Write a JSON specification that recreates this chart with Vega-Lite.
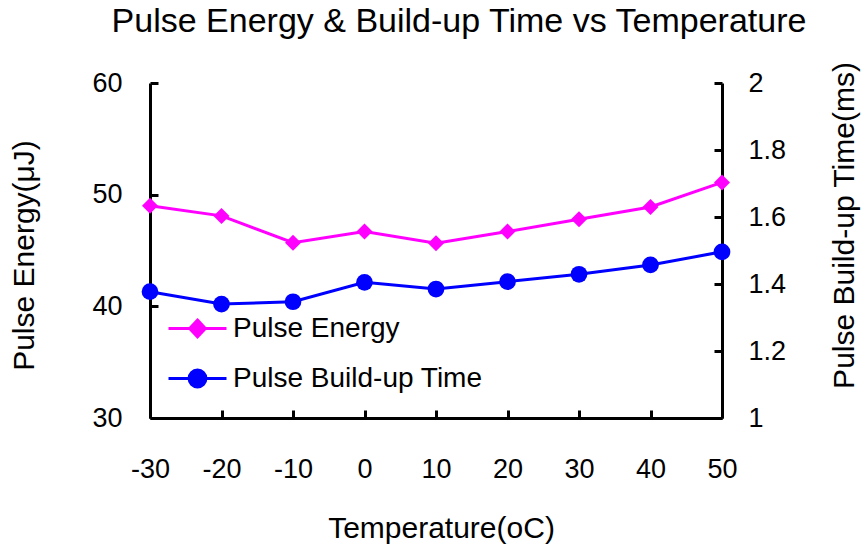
{
  "$schema": "https://vega.github.io/schema/vega-lite/v6.json",
  "width": 572,
  "height": 335,
  "autosize": {"type": "none"},
  "padding": {"left": 150, "top": 83, "right": 139, "bottom": 126},
  "background": "white",
  "title": {
    "text": "Pulse Energy & Build-up Time vs Temperature",
    "font": "Liberation Sans",
    "fontSize": 34,
    "fontWeight": "normal",
    "color": "black",
    "anchor": "middle",
    "frame": "group",
    "dx": 23,
    "offset": 22
  },
  "config": {
    "view": {"stroke": null},
    "axis": {
      "domainColor": "black",
      "domainWidth": 3,
      "ticks": true,
      "tickColor": "black",
      "tickWidth": 3,
      "tickSize": -8,
      "zindex": 1,
      "labelFlush": false,
      "grid": false,
      "labelFont": "Liberation Sans",
      "labelFontSize": 27,
      "labelColor": "black",
      "titleFont": "Liberation Sans",
      "titleFontSize": 30,
      "titleFontWeight": "normal",
      "titleColor": "black"
    }
  },
  "data": {
    "values": [
      {"temp": -30, "series": "Pulse Energy", "value": 49.0},
      {"temp": -20, "series": "Pulse Energy", "value": 48.1},
      {"temp": -10, "series": "Pulse Energy", "value": 45.7},
      {"temp": 0, "series": "Pulse Energy", "value": 46.7},
      {"temp": 10, "series": "Pulse Energy", "value": 45.65},
      {"temp": 20, "series": "Pulse Energy", "value": 46.7},
      {"temp": 30, "series": "Pulse Energy", "value": 47.8},
      {"temp": 40, "series": "Pulse Energy", "value": 48.9},
      {"temp": 50, "series": "Pulse Energy", "value": 51.1},
      {"temp": -30, "series": "Pulse Build-up Time", "value": 1.377},
      {"temp": -20, "series": "Pulse Build-up Time", "value": 1.34},
      {"temp": -10, "series": "Pulse Build-up Time", "value": 1.347},
      {"temp": 0, "series": "Pulse Build-up Time", "value": 1.405},
      {"temp": 10, "series": "Pulse Build-up Time", "value": 1.385},
      {"temp": 20, "series": "Pulse Build-up Time", "value": 1.407},
      {"temp": 30, "series": "Pulse Build-up Time", "value": 1.429},
      {"temp": 40, "series": "Pulse Build-up Time", "value": 1.457},
      {"temp": 50, "series": "Pulse Build-up Time", "value": 1.496}
    ]
  },
  "encoding": {
    "x": {
      "field": "temp",
      "type": "quantitative",
      "scale": {"domain": [-30, 50], "nice": false, "zero": false},
      "axis": {
        "values": [-30, -20, -10, 0, 10, 20, 30, 40, 50],
        "labelExpr": "'' + datum.value",
        "title": "Temperature(oC)",
        "labelBaseline": "alphabetic",
        "labelPadding": 67,
        "titleBaseline": "alphabetic",
        "titleX": 291,
        "titleY": 119,
        "titleAnchor": "middle",
        "titleAlign": "center"
      }
    },
    "color": {
      "field": "series",
      "type": "nominal",
      "scale": {"domain": ["Pulse Energy", "Pulse Build-up Time"], "range": ["#ff00ff", "#0000ff"]},
      "legend": {
        "orient": "none",
        "legendX": 17,
        "legendY": 215,
        "title": null,
        "padding": 0,
        "symbolSize": 3364,
        "symbolStrokeWidth": 3,
        "labelFont": "Liberation Sans",
        "labelFontSize": 28,
        "labelColor": "black",
        "labelLimit": 400,
        "labelOffset": 5,
        "rowPadding": 5,
        "encode": {
          "symbols": {
            "update": {
              "shape": {"signal": "datum.value === 'Pulse Energy' ? 'M-1,0L1,0M0,-0.29L0.27,0L0,0.29L-0.27,0Z' : 'M-1,0L1,0M-0.29,0A0.29,0.29,0,1,1,0.29,0A0.29,0.29,0,1,1,-0.29,0Z'"},
              "fill": {"signal": "datum.value === 'Pulse Energy' ? '#ff00ff' : '#0000ff'"},
              "stroke": {"signal": "datum.value === 'Pulse Energy' ? '#ff00ff' : '#0000ff'"},
              "strokeWidth": {"value": 3},
              "opacity": {"value": 1},
              "fillOpacity": {"value": 1}
            }
          }
        }
      }
    }
  },
  "layer": [
    {
      "transform": [{"filter": "datum.series === 'Pulse Energy'"}],
      "encoding": {
        "y": {
          "field": "value",
          "type": "quantitative",
          "scale": {"domain": [30, 60], "nice": false, "zero": false},
          "axis": {
            "orient": "left",
            "values": [30, 40, 50, 60],
            "title": "Pulse Energy(μJ)",
            "labelPadding": 36,
            "titleAngle": 270,
            "titleBaseline": "alphabetic",
            "titleAlign": "center",
            "titleX": -117,
            "titleY": 172
          }
        }
      },
      "layer": [
        {"mark": {"type": "line", "strokeWidth": 3}},
        {"mark": {"type": "point", "shape": "diamond", "filled": true, "size": 256, "opacity": 1}}
      ]
    },
    {
      "transform": [{"filter": "datum.series === 'Pulse Build-up Time'"}],
      "encoding": {
        "y": {
          "field": "value",
          "type": "quantitative",
          "scale": {"domain": [1, 2], "nice": false, "zero": false},
          "axis": {
            "orient": "right",
            "values": [1, 1.2, 1.4, 1.6, 1.8, 2],
            "format": "~g",
            "title": "Pulse Build-up Time(ms)",
            "labelPadding": 34,
            "titleAngle": 270,
            "titleBaseline": "alphabetic",
            "titleAlign": "center",
            "titleX": 131,
            "titleY": 142
          }
        }
      },
      "layer": [
        {"mark": {"type": "line", "strokeWidth": 3}},
        {"mark": {"type": "point", "shape": "circle", "filled": true, "size": 280, "opacity": 1}}
      ]
    }
  ],
  "resolve": {"scale": {"y": "independent"}}
}
